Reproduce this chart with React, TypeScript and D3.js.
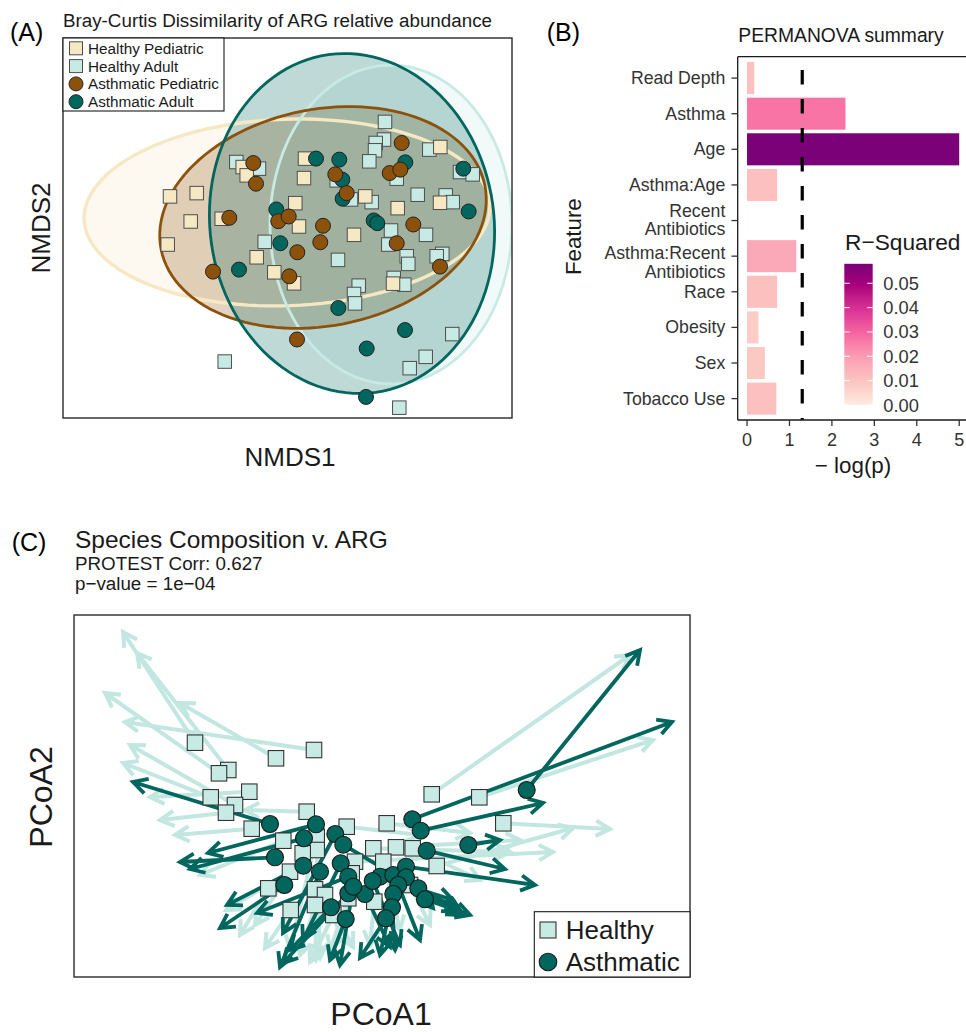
import React from "react";
import * as d3 from "d3";

const FONT = "'Liberation Sans', Arial, Helvetica, sans-serif";

// ---------------- Panel A : NMDS (Bray-Curtis of ARG relative abundance) ----------------
const groupsA = ["Healthy Pediatric", "Healthy Adult", "Asthmatic Pediatric", "Asthmatic Adult"];
const groupColorsA = ["#F6E8C3", "#C7EAE5", "#8C510A", "#01665E"];
const groupShapesA = ["square", "square", "circle", "circle"];

const healthyPediatric: [number, number][] = [
  [-1.175, 0.315], [-0.908, 0.348], [-0.968, 0.065], [-1.198, -0.165], [-0.658, 0.092],
  [-0.448, 0.608], [-0.408, 0.525], [0.175, 0.692], [0.165, 0.498], [0.078, 0.248],
  [0.115, 0.015], [-0.308, -0.292], [-0.132, -0.442], [0.065, -0.552], [0.665, -0.068],
  [0.778, 0.315], [1.102, 0.198], [1.528, 0.808], [1.525, 0.252], [1.055, -0.555],
];
const healthyAdult: [number, number][] = [
  [-0.512, 0.658], [-0.285, 0.592], [0.975, 1.058], [0.965, 0.882], [0.882, 0.848],
  [0.875, 0.775], [0.818, 0.665], [1.418, 0.782], [1.725, 0.558], [1.852, 0.535],
  [1.092, 0.492], [0.492, 0.475], [0.635, 0.285], [0.842, 0.258], [1.302, 0.332],
  [1.582, 0.325], [1.652, 0.258], [-0.228, -0.138], [1.035, -0.025], [1.008, -0.165],
  [1.385, -0.068], [1.192, -0.282], [1.208, -0.358], [1.548, -0.258], [1.492, -0.282],
  [0.505, -0.318], [0.712, -0.575], [0.665, -0.658], [0.675, -0.752], [1.062, -0.498],
  [1.168, -0.565], [-0.628, -1.332], [1.648, -1.058], [1.382, -1.285], [1.222, -1.398],
  [1.118, -1.792],
];
const asthmaticPediatric: [number, number][] = [
  [-0.342, 0.648], [-0.315, 0.442], [-0.582, 0.102], [-0.092, 0.068], [0.012, 0.115],
  [0.098, -0.242], [0.355, 0.022], [0.328, -0.142], [0.018, -0.482], [-0.745, -0.435],
  [0.478, 0.535], [0.592, 0.348], [1.022, 0.548], [1.128, 0.582], [1.142, 0.848],
  [1.258, 0.035], [1.092, -0.152], [1.525, -0.385], [0.095, -1.112],
];
const asthmaticAdult: [number, number][] = [
  [0.285, 0.692], [0.518, 0.682], [0.548, 0.482], [0.552, 0.292], [-0.112, 0.185],
  [-0.072, -0.152], [-0.485, -0.415], [1.178, 0.655], [1.758, 0.592], [1.812, 0.165],
  [0.862, 0.075], [0.898, 0.048], [0.508, -0.798], [1.175, -1.018], [0.792, -1.202],
  [0.785, -1.685],
];
// 95% ellipses (centre, semi-axes, rotation in degrees), same order as groupsA
const ellipseCx = [-0.005, 1.035, 0.355, 0.645];
const ellipseCy = [0.155, 0.035, 0.105, 0.045];
const ellipseA = [2.03, 1.21, 1.65, 1.42];
const ellipseB = [0.93, 1.59, 1.08, 1.7];
const ellipseRot = [2, 0, 11, 8];

// ---------------- Panel B : PERMANOVA summary ----------------
const features = [
  "Read Depth", "Asthma", "Age", "Asthma:Age", "Recent\nAntibiotics",
  "Asthma:Recent\nAntibiotics", "Race", "Obesity", "Sex", "Tobacco Use",
];
const negLogP = [0.17, 2.32, 5.0, 0.71, 0.004, 1.16, 0.71, 0.27, 0.42, 0.69];
const rSquared = [0.011, 0.027, 0.058, 0.011, 0.0, 0.017, 0.011, 0.008, 0.009, 0.011];
const xTicksB = [0, 1, 2, 3, 4, 5];
const rTicks = [0, 0.01, 0.02, 0.03, 0.04, 0.05];
const rMax = 0.058;
const pThreshold = 1.301; // -log10(0.05)
const rdpu = ["#FEEBE2", "#FCC5C0", "#FA9FB5", "#F768A1", "#DD3497", "#AE017E", "#7A0177"];

// ---------------- Panel C : Procrustes (species vs ARG) ----------------
const healthyStart: [number, number][] = [
  [-1.87, 0.533], [-0.68, 0.46], [-1.06, 0.377], [-1.537, 0.26], [-1.63, 0.227],
  [-1.713, -0.013], [-1.327, 0.043], [-1.47, -0.09], [-1.56, -0.167], [-1.303, -0.327],
  [-0.753, -0.157], [-0.987, -0.447], [-0.353, -0.307], [0.047, -0.273], [0.497, 0.017],
  [0.973, -0.013], [1.213, -0.273], [0.547, -0.7], [-0.653, -0.407], [-0.653, -0.54],
  [-0.793, -0.573], [-0.27, -0.657], [-0.087, -0.523], [0.14, -0.513], [0.307, -0.523],
  [-0.92, -0.757], [-1.137, -0.923], [-0.67, -0.933], [-0.57, -0.99], [-0.67, -1.09],
  [-0.913, -1.14], [-0.303, -0.773], [0.013, -0.657], [0.28, -0.89], [-0.077, -1.057],
  [-0.337, -1.023], [-0.487, -1.19],
];
const healthyEnd: [number, number][] = [
  [-2.59, 1.64], [-2.57, 0.74], [-2.02, 0.93], [-2.45, 1.43], [-2.77, 1.03],
  [-2.59, 0.33], [-2.32, -0.01], [-2.52, 0.51], [-2.22, -0.24], [-2.07, -0.39],
  [-1.37, -0.14], [-1.82, -0.79], [0.38, -0.39], [0.88, -0.37], [2.48, 1.41],
  [2.71, 0.56], [2.28, -0.33], [1.91, -0.32], [-0.92, -1.54], [-0.62, -1.62],
  [-1.27, -1.29], [1.71, -0.56], [1.28, -0.56], [1.38, -0.44], [0.98, -0.84],
  [-1.56, -1.14], [-1.42, -1.39], [-0.66, -1.64], [-0.29, -1.51], [-0.82, -1.59],
  [-1.17, -1.52], [-0.42, -1.39], [0.18, -1.34], [0.48, -1.29], [-0.12, -1.49],
  [-0.52, -1.54], [-0.72, -1.66],
];
const asthmaticStart: [number, number][] = [
  [-1.12, -0.28], [-0.66, -0.283], [-0.78, -0.423], [-0.467, -0.38], [-0.387, -0.487],
  [-1.07, -0.613], [-0.787, -0.697], [-0.62, -0.757], [-0.413, -0.673], [-0.977, -0.89],
  [-0.337, -0.807], [-0.337, -0.973], [-0.17, -0.98], [-0.51, -1.113], [-0.363, -1.23],
  [-0.02, -0.807], [-0.093, -0.85], [0.113, -0.79], [0.24, -0.707], [0.24, -0.813],
  [0.163, -0.89], [0.113, -0.98], [0.1, -1.113], [0.04, -1.223], [0.303, -0.233],
  [0.387, -0.347], [0.447, -0.547], [0.363, -0.923], [0.43, -1.033], [0.863, -0.49],
  [1.447, 0.06], [-0.287, -0.907],
];
const asthmaticEnd: [number, number][] = [
  [-2.49, 0.14], [-1.74, -0.57], [-1.92, -0.73], [-0.99, -1.37], [0.79, -1.19],
  [-2.02, -0.66], [-1.55, -1.09], [-1.02, -1.71], [-0.79, -1.44], [-1.62, -1.32],
  [-1.25, -1.17], [-0.99, -1.67], [0.08, -1.51], [-0.92, -1.54], [-0.52, -1.64],
  [0.71, -1.04], [0.18, -1.49], [0.78, -1.14], [1.53, -0.89], [0.51, -1.12],
  [0.38, -1.44], [-0.02, -1.59], [0.13, -1.54], [-0.22, -1.62], [2.9, 0.74],
  [1.61, -0.07], [1.23, -0.73], [0.75, -1.16], [0.88, -1.19], [1.18, -0.44],
  [2.58, 1.46], [-0.42, -1.69],
];
const protestCorr = "0.627";
const protestP = "1e\u221204";

function arrowPath(x1: number, y1: number, x2: number, y2: number) {
  const ang = Math.atan2(y2 - y1, x2 - x1);
  const L = 16, w = 0.5;
  const ax = x2 - L * Math.cos(ang - w), ay = y2 - L * Math.sin(ang - w);
  const bx = x2 - L * Math.cos(ang + w), by = y2 - L * Math.sin(ang + w);
  return `M${x1},${y1}L${x2},${y2}M${ax},${ay}L${x2},${y2}L${bx},${by}`;
}

export default function App() {
  // ---- scales A
  const xA = d3.scaleLinear().domain([-2.245, 2.245]).range([63, 512]);
  const yA = d3.scaleLinear().domain([-1.895, 1.895]).range([418, 38]);
  const lineGen = d3.line();
  const ellipsePath = (i: number) => {
    const t = (ellipseRot[i] * Math.PI) / 180;
    const pts = d3.range(0, 121).map((k) => {
      const th = (k / 120) * 2 * Math.PI;
      const ex = ellipseA[i] * Math.cos(th);
      const ey = ellipseB[i] * Math.sin(th);
      return [
        xA(ellipseCx[i] + ex * Math.cos(t) - ey * Math.sin(t)),
        yA(ellipseCy[i] + ex * Math.sin(t) + ey * Math.cos(t)),
      ] as [number, number];
    });
    return lineGen(pts) + "Z";
  };
  const sqA = 13.5, rA = 7.5;

  // ---- scales B
  const xB = d3.scaleLinear().domain([-0.22, 5.16]).range([737.7, 966]);
  const yB = d3.scalePoint<string>().domain(features).range([56.7, 420]).padding(0.6);
  const stepB = yB.step();
  const colB = d3
    .scaleLinear<string>()
    .domain(rdpu.map((_, i) => (i * rMax) / (rdpu.length - 1)))
    .range(rdpu)
    .interpolate(d3.interpolateLab);
  const legY = d3.scaleLinear().domain([0, rMax]).range([405, 263.8]);
  const legX0 = 844.3, legW = 28.4;

  // ---- scales C
  const xC = d3.scaleLinear().domain([-3.08, 3.08]).range([74, 690]);
  const yC = d3.scaleLinear().domain([-1.81, 1.81]).range([977, 615]);
  const sqC = 15.5, rC = 8.5;

  const groupDataA = [healthyPediatric, healthyAdult, asthmaticPediatric, asthmaticAdult];
  const drawOrder = [1, 0, 3, 2];

  let multiSeen = 0;

  return (
    <svg
      width={966}
      height={1032}
      style={{ position: "absolute", left: 0, top: 0, background: "#fff" }}
      fontFamily={FONT}
    >
      <rect x={0} y={0} width={966} height={1032} fill="#fff" />
      <defs>
        <linearGradient id="rsqGrad" x1="0" y1="1" x2="0" y2="0">
          {d3.range(0, 21).map((k) => (
            <stop key={k} offset={`${k * 5}%`} stopColor={colB((k / 20) * rMax)} />
          ))}
        </linearGradient>
        <clipPath id="clipA">
          <rect x={63} y={38} width={449} height={380} />
        </clipPath>
        <clipPath id="clipC">
          <rect x={74} y={615} width={616} height={362} />
        </clipPath>
      </defs>

      {/* ================= Panel A ================= */}
      <text x={10} y={40.5} fontSize={25} fill="#000">(A)</text>
      <text x={63} y={26.7} fontSize={18.8} fill="#1a1a1a">
        Bray-Curtis Dissimilarity of ARG relative abundance
      </text>
      <g clipPath="url(#clipA)">
        {[0, 1, 2, 3].map((i) => (
          <path key={"ef" + i} d={ellipsePath(i)} fill={groupColorsA[i]} fillOpacity={0.25} stroke="none" />
        ))}
        {[0, 1, 2, 3].map((i) => (
          <path key={"el" + i} d={ellipsePath(i)} fill="none" stroke={groupColorsA[i]} strokeWidth={i === 0 ? 3.4 : 2.8} />
        ))}
        {drawOrder.map((g) =>
          groupDataA[g].map((p, j) =>
            groupShapesA[g] === "square" ? (
              <rect
                key={`a${g}-${j}`}
                x={xA(p[0]) - sqA / 2}
                y={yA(p[1]) - sqA / 2}
                width={sqA}
                height={sqA}
                fill={groupColorsA[g]}
                stroke="#4d4d4d"
                strokeWidth={1}
              />
            ) : (
              <circle
                key={`a${g}-${j}`}
                cx={xA(p[0])}
                cy={yA(p[1])}
                r={rA}
                fill={groupColorsA[g]}
                stroke="#222"
                strokeWidth={1}
              />
            )
          )
        )}
      </g>
      <rect x={63} y={38} width={449} height={380} fill="none" stroke="#1a1a1a" strokeWidth={1.3} />
      {/* legend A */}
      <rect x={63} y={38} width={161} height={73} fill="#fff" stroke="#1a1a1a" strokeWidth={1.1} />
      {groupsA.map((g, i) => {
        const cy = 48.3 + i * 17.8;
        return (
          <g key={"lg" + i}>
            {groupShapesA[i] === "square" ? (
              <rect x={76 - 6.5} y={cy - 6.5} width={13} height={13} fill={groupColorsA[i]} stroke="#4d4d4d" strokeWidth={1} />
            ) : (
              <circle cx={76} cy={cy} r={7} fill={groupColorsA[i]} stroke="#222" strokeWidth={1} />
            )}
            <text x={88} y={cy} dominantBaseline="central" fontSize={15.3} fill="#1a1a1a">
              {g}
            </text>
          </g>
        );
      })}
      <text x={290} y={466} fontSize={26} textAnchor="middle" fill="#1a1a1a">NMDS1</text>
      <text transform="translate(50,228) rotate(-90)" fontSize={26} textAnchor="middle" fill="#1a1a1a">NMDS2</text>

      {/* ================= Panel B ================= */}
      <text x={546.7} y={41} fontSize={25} fill="#000">(B)</text>
      <text x={841} y={41.7} fontSize={19.3} textAnchor="middle" fill="#1a1a1a">PERMANOVA summary</text>
      {features.map((f, i) => {
        const cy = yB(f) as number;
        return (
          <rect
            key={"bar" + i}
            x={xB(0)}
            y={cy - (stepB * 0.9) / 2}
            width={Math.max(0, xB(negLogP[i]) - xB(0))}
            height={stepB * 0.9}
            fill={colB(rSquared[i])}
          />
        );
      })}
      <line
        x1={xB(pThreshold)}
        x2={xB(pThreshold)}
        y1={56.7}
        y2={420}
        stroke="#000"
        strokeWidth={3.2}
        strokeDasharray="14.5 14.5"
        strokeDashoffset={15.7}
      />
      <line x1={737.7} x2={966} y1={56.7} y2={56.7} stroke="#1a1a1a" strokeWidth={1.3} />
      <line x1={737.7} x2={737.7} y1={56.7} y2={420} stroke="#1a1a1a" strokeWidth={1.3} />
      <line x1={737.7} x2={966} y1={420} y2={420} stroke="#1a1a1a" strokeWidth={1.3} />
      {features.map((f, i) => {
        const cy = yB(f) as number;
        const lines = f.split("\n");
        let shift = 0;
        if (lines.length > 1) {
          shift = multiSeen === 0 ? -0.5 : 6.5;
          multiSeen += 1;
        }
        return (
          <g key={"yt" + i}>
            <line x1={731.5} x2={737.7} y1={cy} y2={cy} stroke="#333" strokeWidth={1.3} />
            {lines.map((ln, k) => (
              <text
                key={k}
                x={725.3}
                y={cy + shift + (k - (lines.length - 1) / 2) * 18.8}
                dominantBaseline="central"
                textAnchor="end"
                fontSize={17.7}
                fill="#333"
              >
                {ln}
              </text>
            ))}
          </g>
        );
      })}
      {xTicksB.map((t) => (
        <g key={"xt" + t}>
          <line x1={xB(t)} x2={xB(t)} y1={420} y2={426} stroke="#333" strokeWidth={1.3} />
          <text x={xB(t)} y={440} dominantBaseline="central" textAnchor="middle" fontSize={18} fill="#333">
            {t}
          </text>
        </g>
      ))}
      <text x={853} y={465} dominantBaseline="central" textAnchor="middle" fontSize={22.4} fill="#1a1a1a">
        {"\u2212 log(p)"}
      </text>
      <text transform="translate(573,236.7) rotate(-90)" dominantBaseline="central" textAnchor="middle" fontSize={22.3} fill="#1a1a1a">
        Feature
      </text>
      {/* legend B */}
      <text x={845} y={241.7} dominantBaseline="central" fontSize={22.7} fill="#1a1a1a">
        {"R\u2212Squared"}
      </text>
      <rect x={legX0} y={legY(rMax)} width={legW} height={legY(0) - legY(rMax)} fill="url(#rsqGrad)" />
      {rTicks.map((t) => (
        <g key={"rt" + t}>
          <line x1={legX0} x2={legX0 + 5.5} y1={legY(t)} y2={legY(t)} stroke="#fff" strokeWidth={1} />
          <line x1={legX0 + legW - 5.5} x2={legX0 + legW} y1={legY(t)} y2={legY(t)} stroke="#fff" strokeWidth={1} />
          <text x={883.3} y={legY(t)} dominantBaseline="central" fontSize={18.3} fill="#333">
            {t.toFixed(2)}
          </text>
        </g>
      ))}

      {/* ================= Panel C ================= */}
      <text x={11.7} y={551} fontSize={25} fill="#000">(C)</text>
      <text x={75} y={547.5} fontSize={24.5} fill="#1a1a1a">Species Composition v. ARG</text>
      <text x={75} y={570.3} fontSize={18.8} fill="#1a1a1a">{`PROTEST Corr: ${protestCorr}`}</text>
      <text x={75} y={590.3} fontSize={18.8} fill="#1a1a1a">{`p\u2212value = ${protestP}`}</text>
      <g clipPath="url(#clipC)">
        {healthyStart.map((p, i) => (
          <path
            key={"ha" + i}
            d={arrowPath(xC(p[0]), yC(p[1]), xC(healthyEnd[i][0]), yC(healthyEnd[i][1]))}
            fill="none"
            stroke="#C2E7E1"
            strokeWidth={4}
          />
        ))}
        {asthmaticStart.map((p, i) => (
          <path
            key={"aa" + i}
            d={arrowPath(xC(p[0]), yC(p[1]), xC(asthmaticEnd[i][0]), yC(asthmaticEnd[i][1]))}
            fill="none"
            stroke="#01665E"
            strokeWidth={3.8}
          />
        ))}
        {healthyStart.map((p, i) => (
          <rect
            key={"hp" + i}
            x={xC(p[0]) - sqC / 2}
            y={yC(p[1]) - sqC / 2}
            width={sqC}
            height={sqC}
            fill="#C7EAE5"
            stroke="#333"
            strokeWidth={1.1}
          />
        ))}
        {asthmaticStart.map((p, i) => (
          <circle key={"ap" + i} cx={xC(p[0])} cy={yC(p[1])} r={rC} fill="#01665E" stroke="#1a1a1a" strokeWidth={1.1} />
        ))}
      </g>
      <rect x={74} y={615} width={616} height={362} fill="none" stroke="#1a1a1a" strokeWidth={1.3} />
      {/* legend C */}
      <rect x={534.3} y={911.7} width={155.7} height={65.3} fill="#fff" stroke="#1a1a1a" strokeWidth={1.1} />
      <rect x={548 - 8} y={930 - 8} width={16} height={16} fill="#C7EAE5" stroke="#333" strokeWidth={1.1} />
      <text x={565.7} y={930} dominantBaseline="central" fontSize={26} fill="#1a1a1a">Healthy</text>
      <circle cx={548} cy={962} r={8.8} fill="#01665E" stroke="#1a1a1a" strokeWidth={1.1} />
      <text x={565.7} y={962} dominantBaseline="central" fontSize={26} fill="#1a1a1a">Asthmatic</text>
      <text x={381} y={1025} fontSize={32} textAnchor="middle" fill="#1a1a1a">PCoA1</text>
      <text transform="translate(52,797) rotate(-90)" fontSize={32} textAnchor="middle" fill="#1a1a1a">PCoA2</text>
    </svg>
  );
}
